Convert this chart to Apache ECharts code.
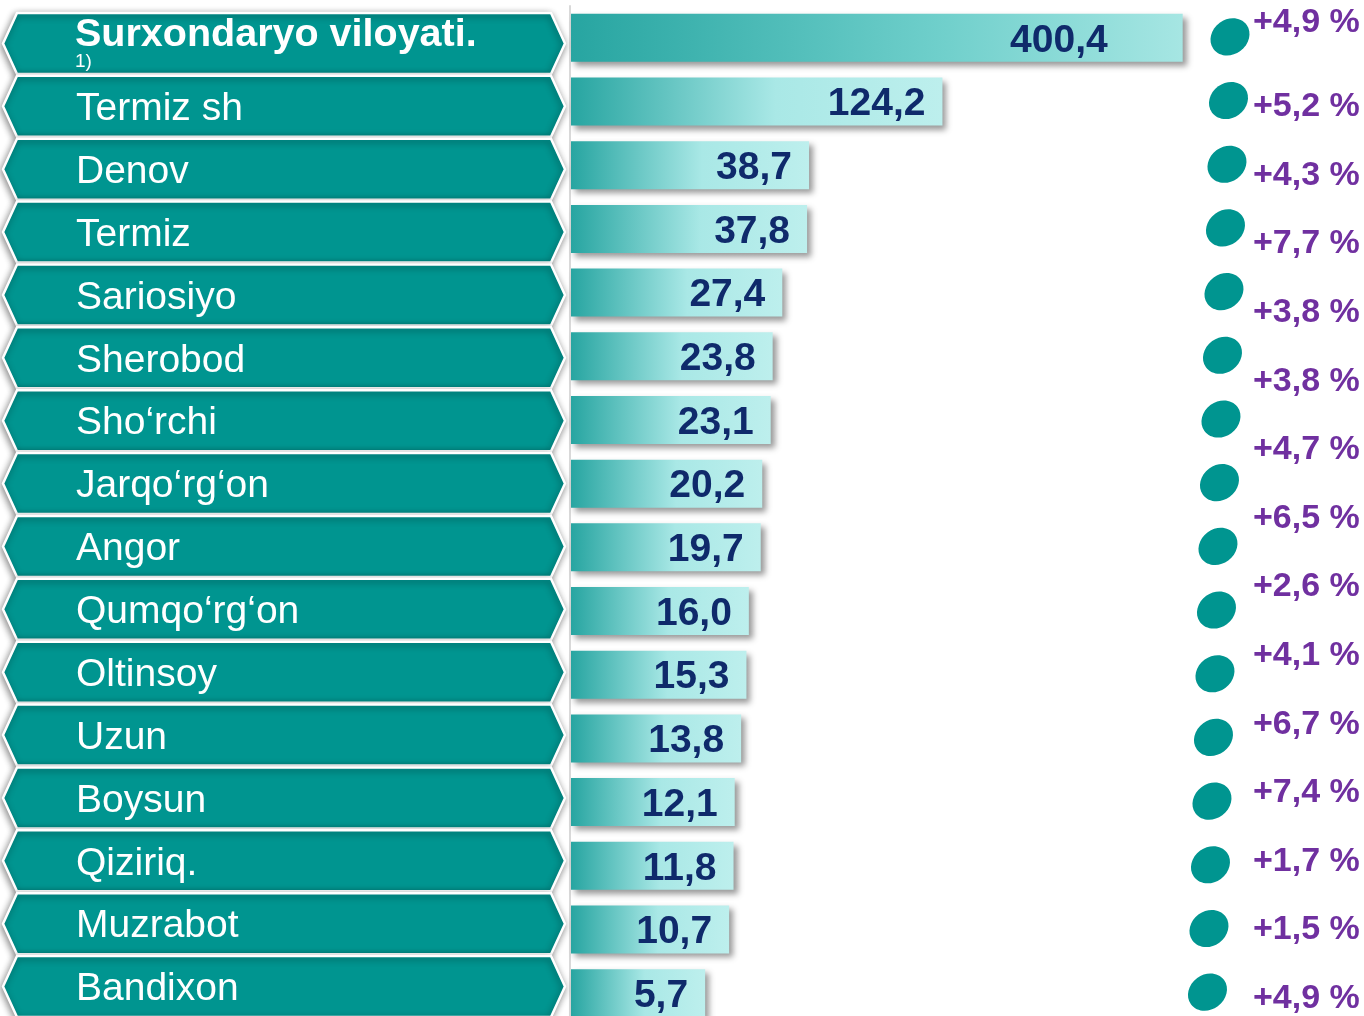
<!DOCTYPE html>
<html>
<head>
<meta charset="utf-8">
<script src="https://cdn.jsdelivr.net/npm/echarts@6/dist/echarts.min.js"></script>
<style>
  html, body { margin: 0; padding: 0; background: #fff; }
  #main { width: 1364px; height: 1016px; }
</style>
</head>
<body>
<div id="main"></div>
<script>
// data
const districts = ['Surxondaryo viloyati.', 'Termiz sh', 'Denov', 'Termiz', 'Sariosiyo', 'Sherobod',
    'Sho‘rchi', 'Jarqo‘rg‘on', 'Angor', 'Qumqo‘rg‘on', 'Oltinsoy', 'Uzun', 'Boysun', 'Qiziriq.',
    'Muzrabot', 'Bandixon'];
const volumes = [400.4, 124.2, 38.7, 37.8, 27.4, 23.8, 23.1, 20.2, 19.7, 16.0, 15.3, 13.8, 12.1, 11.8, 10.7, 5.7];
const growth = [4.9, 5.2, 4.3, 7.7, 3.8, 3.8, 4.7, 6.5, 2.6, 4.1, 6.7, 7.4, 1.7, 1.5, 4.9];
const footnote = '1)';

const FONT = '"Liberation Sans", Arial, sans-serif';
const TEAL = '#009590';

function fmt(v) {
    return v.toFixed(1).replace('.', ',');
}

const chart = echarts.init(document.getElementById('main'), null, { renderer: 'canvas' });

// bar lengths in the original are not linear, a square-root scale fits them best
const barData = volumes.map((v, i) => [Math.sqrt(v), i, v]);

const option = {
    backgroundColor: '#fff',
    animation: false,
    grid: [
        { left: 3, top: 12, width: 562, height: 1006, outerBoundsMode: 'none' },      // hexagon labels
        { left: 570, top: 6, width: 775, height: 1019, outerBoundsMode: 'none' },     // bars
        { left: 1253, top: 2, width: 100, height: 1029, outerBoundsMode: 'none' }     // growth percentages
    ],
    xAxis: [
        { gridIndex: 0, type: 'value', show: false, min: 0, max: 1 },
        { gridIndex: 1, type: 'value', show: false, min: -2.6, max: 26 },
        { gridIndex: 2, type: 'value', show: false, min: 0, max: 1 }
    ],
    yAxis: [
        { gridIndex: 0, type: 'category', inverse: true, data: districts, show: false },
        {
            gridIndex: 1, type: 'category', inverse: true, data: districts,
            axisLine: { show: true, onZero: false, lineStyle: { color: '#d9d9d9', width: 2 } },
            axisTick: { show: false }, axisLabel: { show: false }
        },
        { gridIndex: 2, type: 'category', inverse: true, data: growth.map((g, i) => i), show: false }
    ],
    series: [
        {
            // hexagon shaped district labels
            type: 'custom',
            xAxisIndex: 0, yAxisIndex: 0,
            data: districts.map((d, i) => [0, i]),
            renderItem: function (params, api) {
                const cs = params.coordSys;
                const i = params.dataIndex;
                const cy = api.coord([0, api.value(1)])[1];
                const h = 61, d = 14;
                const x0 = cs.x, x1 = cs.x + cs.width;
                const children = [{
                    type: 'polygon',
                    shape: {
                        points: [[x0, cy], [x0 + d, cy - h / 2], [x1 - d, cy - h / 2], [x1, cy],
                            [x1 - d, cy + h / 2], [x0 + d, cy + h / 2]]
                    },
                    style: {
                        fill: TEAL, stroke: '#fff', lineWidth: 2.5,
                        shadowBlur: 7, shadowColor: 'rgba(0,0,0,0.45)', shadowOffsetX: -1, shadowOffsetY: 2
                    }
                }];
                if (i === 0) {
                    children.push({
                        type: 'text', x: x0 + 72, y: cy - 8,
                        style: { text: districts[i], font: 'bold 39.5px ' + FONT, fill: '#fff', align: 'left', verticalAlign: 'middle' }
                    });
                    children.push({
                        type: 'text', x: x0 + 72, y: cy + 18,
                        style: { text: footnote, font: '19px ' + FONT, fill: '#fff', align: 'left', verticalAlign: 'middle' }
                    });
                } else {
                    children.push({
                        type: 'text', x: x0 + 73, y: cy + 3,
                        style: { text: districts[i], font: '39px ' + FONT, fill: '#fff', align: 'left', verticalAlign: 'middle' }
                    });
                }
                return { type: 'group', children: children };
            }
        },
        {
            // gradient bars with values
            type: 'custom',
            xAxisIndex: 1, yAxisIndex: 1,
            data: barData,
            z: 3,
            renderItem: function (params, api) {
                const cs = params.coordSys;
                const i = params.dataIndex;
                const end = api.coord([api.value(0), api.value(1)]);
                const h = 48;
                const x0 = cs.x + 1;
                const stops = i === 0
                    ? [{ offset: 0, color: '#27a5a1' }, { offset: 0.6, color: '#6fcfcb' }, { offset: 1, color: '#a6e6e3' }]
                    : [{ offset: 0, color: '#27a5a1' }, { offset: 0.55, color: '#a9e8e6' }, { offset: 1, color: '#bdefed' }];
                const pad = i === 0 ? 75 : 17;
                return {
                    type: 'group',
                    children: [{
                        type: 'rect',
                        shape: { x: x0, y: end[1] - h / 2, width: end[0] - x0, height: h },
                        style: {
                            fill: new echarts.graphic.LinearGradient(0, 0, 1, 0, stops),
                            shadowBlur: 6, shadowOffsetX: 4, shadowOffsetY: 4, shadowColor: 'rgba(0,0,0,0.4)'
                        }
                    }, {
                        type: 'text', x: end[0] - pad, y: end[1] + 3,
                        style: {
                            text: fmt(api.value(2)), font: 'bold 39px ' + FONT, fill: '#0f2a6b',
                            align: 'right', verticalAlign: 'middle'
                        }
                    }]
                };
            }
        },
        {
            // teal dots
            type: 'custom',
            xAxisIndex: 1, yAxisIndex: 1,
            data: districts.map((d, i) => [0, i]),
            renderItem: function (params, api) {
                const cs = params.coordSys;
                const i = params.dataIndex;
                const cy = api.coord([0, api.value(1)])[1] - 1;
                return {
                    type: 'ellipse',
                    x: cs.x + 660 - 1.5 * i, y: cy,
                    rotation: Math.PI / 5,
                    shape: { cx: 0, cy: 0, rx: 20.5, ry: 17.5 },
                    style: { fill: TEAL }
                };
            }
        },
        {
            // growth percentages
            type: 'custom',
            xAxisIndex: 2, yAxisIndex: 2,
            data: growth.map((g, i) => [0, i, g]),
            renderItem: function (params, api) {
                const cs = params.coordSys;
                const i = params.dataIndex;
                const cy = api.coord([0, api.value(1)])[1] + (i === 0 ? -14 : 2);
                return {
                    type: 'text', x: cs.x, y: cy,
                    style: {
                        text: '+' + fmt(api.value(2)) + ' %', font: 'bold 34px ' + FONT, fill: '#7030a0',
                        align: 'left', verticalAlign: 'middle'
                    }
                };
            }
        }
    ]
};

chart.setOption(option);

window.addEventListener('resize', function () {
    chart.resize();
});
</script>
</body>
</html>
